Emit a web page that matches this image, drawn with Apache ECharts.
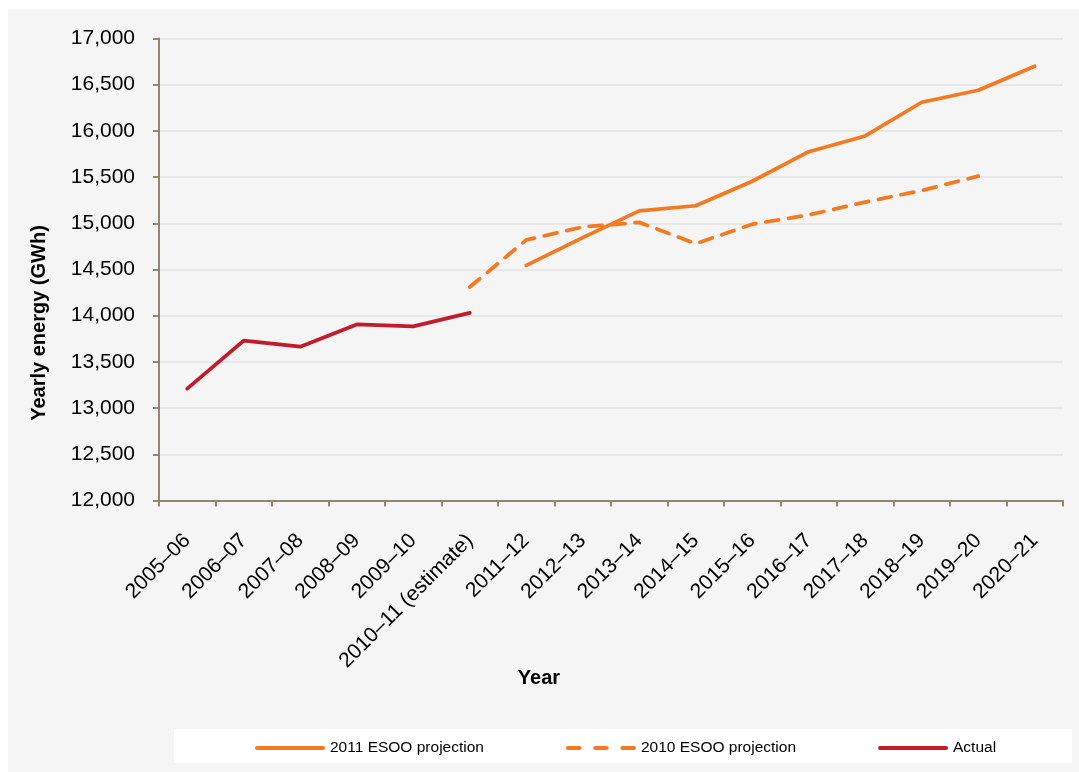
<!DOCTYPE html>
<html>
<head>
<meta charset="utf-8">
<script src="https://cdn.jsdelivr.net/npm/echarts@6/dist/echarts.min.js"></script>
<style>
  html, body { margin: 0; padding: 0; background: #ffffff; }
  #chart { width: 1079px; height: 772px; }
</style>
</head>
<body>
<div id="chart"></div>
<script>
// Financial years on the category axis
const years = ['2005–06', '2006–07', '2007–08', '2008–09', '2009–10', '2010–11 (estimate)',
  '2011–12', '2012–13', '2013–14', '2014–15', '2015–16', '2016–17', '2017–18',
  '2018–19', '2019–20', '2020–21'];

// Yearly energy, GWh
const projection2011 = [null, null, null, null, null, null,
  14545, 14845, 15135, 15190, 15455, 15775, 15945, 16310, 16440, 16700];
const projection2010 = [null, null, null, null, null, 14310,
  14820, 14960, 15010, 14780, 14990, 15090, 15230, 15355, 15510, null];
const actual = [13210, 13730, 13665, 13905, 13885, 14030,
  null, null, null, null, null, null, null, null, null, null];

const seriesNames = ['2011 ESOO projection', '2010 ESOO projection', 'Actual'];
const yTicks = { min: 12000, max: 17000, step: 500 };

const FONT = '"Liberation Sans", Arial, sans-serif';
const ORANGE = '#f47a22';
const RED = '#c21b2c';
const AXIS = '#938671';

// Legend keys drawn as plain strokes (solid / dashed), no point markers
const SOLID_KEY = 'path://M2,0H68A2,2 0 0 1 68,4H2A2,2 0 0 1 2,0Z';
const DASH_KEY = 'path://M2,0H14A2,2 0 0 1 14,4H2A2,2 0 0 1 2,0Z' +
  'M30,0H42A2,2 0 0 1 42,4H30A2,2 0 0 1 30,0Z' +
  'M58,0H70A2,2 0 0 1 70,4H58A2,2 0 0 1 58,0Z';

const chart = echarts.init(document.getElementById('chart'), null, { renderer: 'canvas' });

chart.setOption({
  backgroundColor: '#ffffff',
  animation: false,
  textStyle: { fontFamily: FONT, color: '#000' },
  graphic: [
    { type: 'rect', z: -10, silent: true,
      shape: { x: 8, y: 9, width: 1071, height: 763 },
      style: { fill: '#f5f5f5' } },
    { type: 'rect', z: -9, silent: true,
      shape: { x: 174, y: 729, width: 898, height: 34 },
      style: { fill: '#ffffff' } },
    { type: 'text', z: 5, silent: true,
      x: 39, y: 323, rotation: Math.PI / 2,
      style: { text: 'Yearly energy (GWh)', font: 'bold 20px ' + FONT,
        fill: '#000', align: 'center', verticalAlign: 'middle' } },
    { type: 'text', z: 5, silent: true,
      x: 539, y: 678,
      style: { text: 'Year', font: 'bold 20px ' + FONT,
        fill: '#000', align: 'center', verticalAlign: 'middle' } }
  ],
  grid: { left: 159, right: 16, top: 38.5, bottom: 271.5, containLabel: false },
  legend: {
    left: 250, top: 735,
    itemWidth: 70, itemHeight: 4, itemGap: 82,
    textStyle: { fontSize: 15.5, fontFamily: FONT, color: '#000' },
    data: [
      { name: seriesNames[0], icon: SOLID_KEY },
      { name: seriesNames[1], icon: DASH_KEY },
      { name: seriesNames[2], icon: SOLID_KEY }
    ]
  },
  xAxis: {
    type: 'category',
    data: years,
    boundaryGap: true,
    axisLine: { lineStyle: { color: AXIS, width: 2 } },
    axisTick: { show: true, interval: 0, length: 6, lineStyle: { color: AXIS, width: 2 } },
    axisLabel: { interval: 0, rotate: 45, margin: 37, fontSize: 21, fontFamily: FONT, color: '#000' },
    splitLine: { show: false }
  },
  yAxis: {
    type: 'value',
    min: yTicks.min, max: yTicks.max, interval: yTicks.step,
    axisLine: { show: true, lineStyle: { color: AXIS, width: 2 } },
    axisTick: { show: true, length: 6, lineStyle: { color: AXIS, width: 2 } },
    axisLabel: { margin: 24, fontSize: 21, fontFamily: FONT, color: '#000',
      formatter: v => v.toLocaleString('en-US') },
    splitLine: { show: true, lineStyle: { color: '#e8e8e8', width: 2 } }
  },
  series: [
    { name: seriesNames[0], type: 'line', data: projection2011, symbol: 'none',
      connectNulls: false, z: 3,
      lineStyle: { color: ORANGE, width: 3.75, cap: 'round', join: 'round' },
      itemStyle: { color: ORANGE } },
    { name: seriesNames[1], type: 'line', data: projection2010, symbol: 'none',
      connectNulls: false, z: 2,
      lineStyle: { color: ORANGE, width: 3.75, type: [13, 10], cap: 'round', join: 'round' },
      itemStyle: { color: ORANGE } },
    { name: seriesNames[2], type: 'line', data: actual, symbol: 'none',
      connectNulls: false, z: 4,
      lineStyle: { color: RED, width: 3.75, cap: 'round', join: 'round' },
      itemStyle: { color: RED } }
  ]
});
</script>
</body>
</html>
